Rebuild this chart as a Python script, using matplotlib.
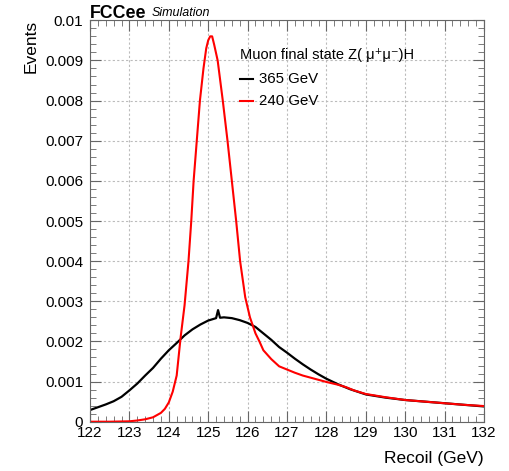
import numpy as np
import matplotlib.pyplot as plt
from matplotlib.ticker import MultipleLocator, FuncFormatter

plt.rcParams['font.family'] = ['Liberation Sans', 'DejaVu Sans']

# 240 GeV, Z(mumu)H recoil mass
x240 = [122.0, 122.5, 123.0, 123.2, 123.4, 123.6, 123.8, 123.9, 124.0, 124.1,
        124.2, 124.3, 124.4, 124.5, 124.57, 124.63, 124.71, 124.79, 124.88, 124.95,
        125.0, 125.05, 125.1, 125.15, 125.24, 125.37, 125.49, 125.6, 125.71, 125.81,
        125.94, 126.06, 126.2, 126.3, 126.4, 126.6, 126.8, 127.0, 127.2, 127.4,
        127.7, 128.0, 128.3, 128.5, 128.7, 129.0, 129.5, 130.0, 130.5, 131.0,
        131.5, 132.0]
y240 = [0.0, 0.0, 0.00001, 0.00003, 0.00006, 0.00011, 0.00022, 0.00032, 0.00048, 0.00075,
        0.00115, 0.0021, 0.0029, 0.0040, 0.0050, 0.0060, 0.0070, 0.0080, 0.0088, 0.0093,
        0.0095, 0.0096, 0.0096, 0.0094, 0.0090, 0.0080, 0.0070, 0.0060, 0.0050, 0.0040,
        0.0031, 0.0026, 0.0022, 0.0020, 0.00178, 0.00156, 0.00138, 0.00130, 0.00122, 0.00115,
        0.00107, 0.00099, 0.00092, 0.00086, 0.00078, 0.00069, 0.00061, 0.00054, 0.00050, 0.00046,
        0.00042, 0.00039]

# 365 GeV
x365 = [122.0, 122.2, 122.4, 122.6, 122.8, 123.0, 123.2, 123.4, 123.6, 123.8,
        124.0, 124.2, 124.4, 124.6, 124.8, 125.0, 125.2, 125.25, 125.3, 125.4,
        125.6, 125.8, 126.0, 126.2, 126.4, 126.6, 126.8, 127.0, 127.2, 127.4,
        127.6, 127.8, 128.0, 128.3, 128.6, 129.0, 129.5, 130.0, 130.5, 131.0,
        131.5, 132.0]
y365 = [0.00029, 0.00036, 0.00043, 0.00051, 0.00062, 0.00078, 0.00095, 0.00115, 0.00134, 0.00157,
        0.00178, 0.00196, 0.00215, 0.00230, 0.00242, 0.00252, 0.00258, 0.00278, 0.00259, 0.00260,
        0.00258, 0.00253, 0.00246, 0.00236, 0.00220, 0.00204, 0.00186, 0.00172, 0.00157, 0.00143,
        0.00130, 0.00118, 0.00107, 0.00093, 0.00081, 0.00068, 0.00060, 0.00054, 0.00050, 0.00046,
        0.00042, 0.00038]

W, H = 510, 471
fig = plt.figure(figsize=(W/100, H/100), dpi=100)
ax = fig.add_axes([90/W, 1-421.7/H, (484-90)/W, (421.7-20.3)/H])

ax.plot(x365, y365, color='black', lw=1.6)
ax.plot(x240, y240, color='#ff0000', lw=1.5)

ax.set_xlim(122, 132)
ax.set_ylim(0, 0.01)
ax.xaxis.set_major_locator(MultipleLocator(1))
ax.xaxis.set_minor_locator(MultipleLocator(0.2))
ax.yaxis.set_major_locator(MultipleLocator(0.001))
ax.yaxis.set_minor_locator(MultipleLocator(0.0002))
ax.yaxis.set_major_formatter(FuncFormatter(lambda v, p: '{:g}'.format(round(v, 4))))
ax.tick_params(which='both', direction='in', top=True, right=True,
               colors='#666666', labelcolor='black', labelsize=11)
ax.tick_params(which='major', length=8)
ax.tick_params(which='minor', length=4.5)
ax.tick_params(axis='x', pad=3)
ax.tick_params(axis='y', pad=5)
for s in ax.spines.values():
    s.set_color('#666666')
ax.grid(True, which='major', ls=(0, (2, 2)), color='#bbbbbb', lw=0.8)

fig.text(484/W, 1-458/H, 'Recoil (GeV)', ha='right', va='center', fontsize=12.5)
fig.text(31/W, 1-20/H, 'Events', ha='center', va='top', rotation=90, fontsize=12.5)
fig.text(90/W, 1-13/H, 'FCCee', ha='left', va='center', fontsize=12.8, fontweight='bold')
fig.text(152/W, 1-13/H, 'Simulation', ha='left', va='center', fontsize=9, style='italic')

# legend
fig.text(240/W, 1-55/H, 'Muon final state Z( \u03bc\u207a\u03bc\u207b)H', ha='left', va='center', fontsize=10.5)
for yy, lab, c in [(79, '365 GeV', 'black'), (101, '240 GeV', '#ff0000')]:
    fig.add_artist(plt.Line2D([240/W, 253/W], [1-yy/H, 1-yy/H], color=c, lw=1.5))
    fig.text(259/W, 1-yy/H, lab, ha='left', va='center', fontsize=10.8)

fig.savefig('out.png', dpi=100)
